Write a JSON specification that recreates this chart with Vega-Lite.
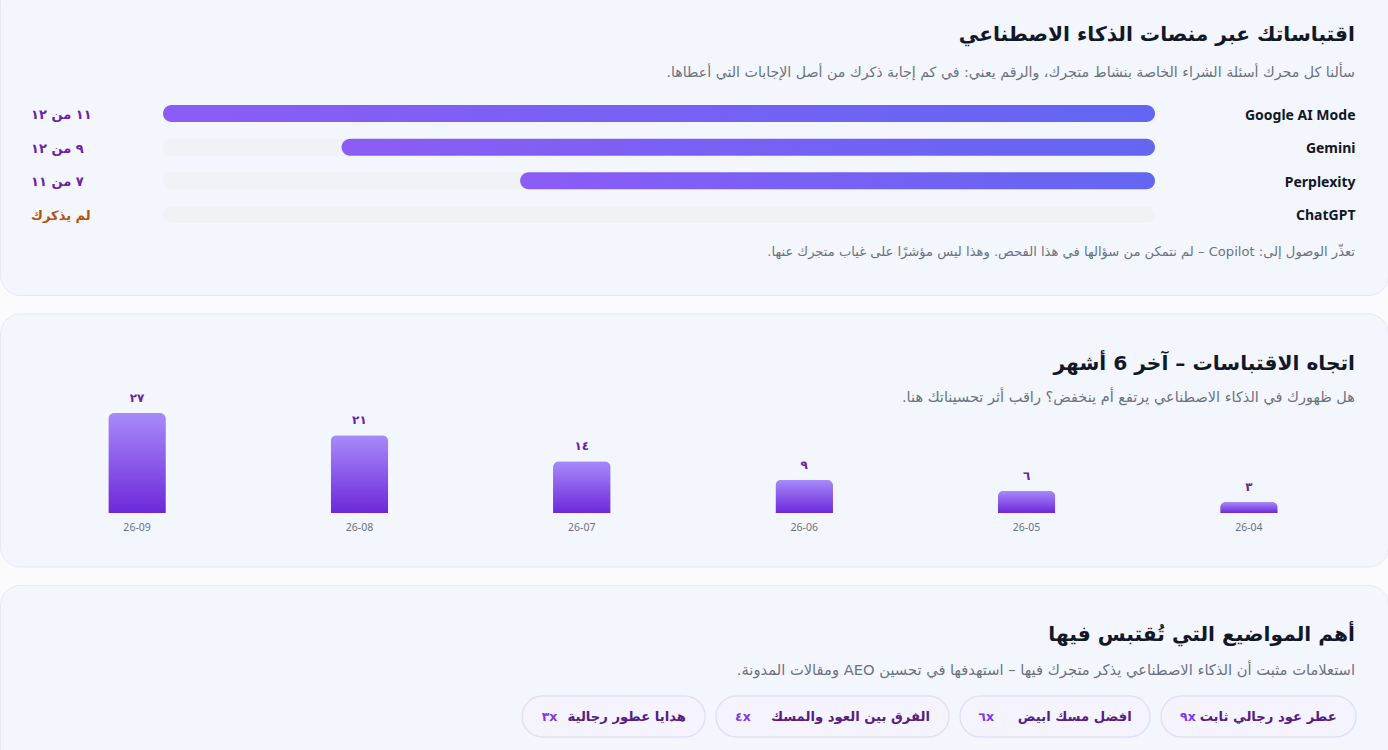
{
  "$schema": "https://vega.github.io/schema/vega-lite/v6.json",
  "background": "#fbfbfe",
  "padding": {"left": -1, "top": -21, "right": 0, "bottom": 0},
  "bounds": "flush",
  "spacing": 18.5,
  "config": {
    "font": "Noto Sans",
    "title": {"anchor": "end", "frame": "group", "dx": -33, "font": "DejaVu Sans", "fontSize": 20.2, "fontWeight": "bold", "color": "#111827", "subtitleFont": "DejaVu Sans", "subtitleFontSize": 14.2, "subtitleColor": "#6b7280", "subtitleFontWeight": "normal"},
    "axis": {"domain": false, "ticks": false, "grid": false, "title": null}
  },
  "datasets": {
    "platforms": [
      {"platform": "Google AI Mode", "share": 100, "label": "١١ من ١٢", "status": "cited"},
      {"platform": "Gemini", "share": 82, "label": "٩ من ١٢", "status": "cited"},
      {"platform": "Perplexity", "share": 64, "label": "٧ من ١١", "status": "cited"},
      {"platform": "ChatGPT", "share": 0, "label": "لم يذكرك", "status": "missing"}
    ],
    "trend": [
      {"month": "26-09", "citations": 27, "label": "٢٧"},
      {"month": "26-08", "citations": 21, "label": "٢١"},
      {"month": "26-07", "citations": 14, "label": "١٤"},
      {"month": "26-06", "citations": 9, "label": "٩"},
      {"month": "26-05", "citations": 6, "label": "٦"},
      {"month": "26-04", "citations": 3, "label": "٣"}
    ],
    "topics": [
      {"rank": 1, "topic": "عطر عود رجالي ثابت", "times": "٩x"},
      {"rank": 2, "topic": "افضل مسك ابيض", "times": "٦x"},
      {"rank": 3, "topic": "الفرق بين العود والمسك", "times": "٤x"},
      {"rank": 4, "topic": "هدايا عطور رجالية", "times": "٣x"}
    ]
  },
  "vconcat": [
    {
      "width": 1388,
      "height": 315,
      "view": {"fill": "#f4f6fe", "stroke": "#e6e8f3", "cornerRadius": 20},
      "title": {
        "text": "اقتباساتك عبر منصات الذكاء الاصطناعي",
        "subtitle": "‫سألنا كل محرك أسئلة الشراء الخاصة بنشاط متجرك، والرقم يعني: في كم إجابة ذكرك من أصل الإجابات التي أعطاها.‬",
        "offset": -100,
        "subtitlePadding": 21
      },
      "data": {"name": "platforms"},
      "encoding": {
        "y": {
          "field": "platform",
          "type": "nominal",
          "scale": {"domain": ["Google AI Mode", "Gemini", "Perplexity", "ChatGPT", "Copilot"], "range": [116.8, 284.8], "paddingInner": 0.494, "paddingOuter": 0.247},
          "axis": {"orient": "left", "offset": -1355, "labelPadding": 0, "labelAlign": "right", "labelOffset": 2, "values": ["Google AI Mode", "Gemini", "Perplexity", "ChatGPT"], "labelFont": "Noto Sans", "labelFontSize": 14, "labelFontWeight": "bold", "labelColor": "#111827"}
        }
      },
      "layer": [
        {
          "mark": {"type": "bar", "color": "#f0f2f6", "cornerRadius": 8.5, "orient": "horizontal"},
          "encoding": {
            "x": {"datum": 100, "type": "quantitative", "scale": {"domain": [0, 100], "range": [1155, 163]}, "axis": null},
            "x2": {"datum": 0}
          }
        },
        {
          "transform": [{"filter": "datum.share > 0"}],
          "mark": {"type": "bar", "cornerRadius": 8.5, "orient": "horizontal", "color": {"x1": 0, "y1": 0, "x2": 1, "y2": 0, "gradient": "linear", "stops": [{"offset": 0, "color": "#8b5cf6"}, {"offset": 1, "color": "#6366f1"}]}},
          "encoding": {
            "x": {"field": "share", "type": "quantitative"},
            "x2": {"datum": 0}
          }
        },
        {
          "mark": {"type": "text", "align": "left", "dy": 1.5, "font": "DejaVu Sans", "fontSize": 13, "fontWeight": "bold"},
          "encoding": {
            "x": {"datum": 113.3, "type": "quantitative"},
            "text": {"field": "label"},
            "color": {"field": "status", "type": "nominal", "scale": {"domain": ["cited", "missing"], "range": ["#6b21a8", "#b45309"]}, "legend": null}
          }
        },
        {
          "data": {"values": [{"platform": "Copilot", "note": "‫تعذّر الوصول إلى: Copilot – لم نتمكن من سؤالها في هذا الفحص. وهذا ليس مؤشرًا على غياب متجرك عنها.‬"}]},
          "mark": {"type": "text", "align": "right", "dy": 3.5, "font": "DejaVu Sans", "fontSize": 13.1, "color": "#6b7280"},
          "encoding": {
            "x": {"datum": -20.16, "type": "quantitative"},
            "text": {"field": "note"}
          }
        }
      ]
    },
    {
      "width": 1388,
      "height": 253,
      "view": {"fill": "#f4f6fe", "stroke": "#e6e8f3", "cornerRadius": 20},
      "title": {
        "text": "اتجاه الاقتباسات – آخر 6 أشهر",
        "subtitle": "‫هل ظهورك في الذكاء الاصطناعي يرتفع أم ينخفض؟ راقب أثر تحسيناتك هنا.‬",
        "offset": -91,
        "subtitlePadding": 17,
        "subtitleFontSize": 14.5
      },
      "data": {"name": "trend"},
      "encoding": {
        "x": {
          "field": "month",
          "type": "ordinal",
          "sort": null,
          "scale": {"domain": ["26-09", "26-08", "26-07", "26-06", "26-05", "26-04"], "range": [26, 1360], "paddingInner": 0.741, "paddingOuter": 0.37},
          "axis": {"orient": "bottom", "offset": -44, "labelAngle": 0, "labelPadding": 0, "labelFontSize": 10.5, "labelColor": "#6b7280"}
        },
        "y": {
          "field": "citations",
          "type": "quantitative",
          "scale": {"domain": [-14.46, 53.92]},
          "axis": null
        }
      },
      "layer": [
        {
          "mark": {"type": "bar", "cornerRadiusTopLeft": 6, "cornerRadiusTopRight": 6, "color": {"x1": 0, "y1": 0, "x2": 0, "y2": 1, "gradient": "linear", "stops": [{"offset": 0, "color": "#a78bfa"}, {"offset": 1, "color": "#6d28d9"}]}}
        },
        {
          "mark": {"type": "text", "baseline": "bottom", "dy": -8, "font": "DejaVu Sans", "fontSize": 12, "fontWeight": "bold", "color": "#6b21a8"},
          "encoding": {"text": {"field": "label"}}
        }
      ]
    },
    {
      "width": 1388,
      "height": 205,
      "view": {"fill": "#f4f6fe", "stroke": "#e6e8f3", "cornerRadius": 20},
      "title": {
        "text": "أهم المواضيع التي تُقتبس فيها",
        "subtitle": "‫استعلامات مثبت أن الذكاء الاصطناعي يذكر متجرك فيها – استهدفها في تحسين AEO ومقالات المدونة.‬",
        "offset": -93,
        "subtitlePadding": 18,
        "subtitleFontSize": 14.7
      },
      "data": {"name": "topics"},
      "resolve": {"scale": {"x": "independent"}},
      "layer": [
        {
          "mark": {"type": "bar", "orient": "vertical", "cornerRadius": 20.5, "fill": "#f5f4fe", "stroke": "#e3dff5", "strokeWidth": 1.5},
          "encoding": {
            "x": {"field": "rank", "type": "quantitative", "scale": {"domain": [1, 2, 3, 4], "range": [1258.5, 1055, 832.5, 613.6], "padding": 0}, "axis": null},
            "y": {"datum": 0, "type": "quantitative", "scale": {"domain": [0, 1], "range": [152, 111]}, "axis": null},
            "y2": {"datum": 1},
            "size": {"field": "rank", "type": "quantitative", "scale": {"domain": [1, 2, 3, 4], "range": [195, 190, 233, 183], "zero": false}, "legend": null}
          }
        },
        {
          "mark": {"type": "text", "align": "right", "font": "DejaVu Sans", "fontSize": 13.2, "fontWeight": "bold", "color": "#581c87"},
          "encoding": {
            "x": {"field": "rank", "type": "quantitative", "scale": {"domain": [1, 2, 3, 4], "range": [1336.7, 1131.7, 930, 686]}, "axis": null},
            "y": {"datum": 0.5, "type": "quantitative"},
            "text": {"field": "topic"}
          }
        },
        {
          "mark": {"type": "text", "align": "left", "font": "DejaVu Sans", "fontSize": 12.5, "fontWeight": "bold", "color": "#7c3aed"},
          "encoding": {
            "x": {"field": "rank", "type": "quantitative", "scale": {"domain": [1, 2, 3, 4], "range": [1180, 978.3, 735, 541.7]}, "axis": null},
            "y": {"datum": 0.5, "type": "quantitative"},
            "text": {"field": "times"}
          }
        }
      ]
    }
  ]
}
